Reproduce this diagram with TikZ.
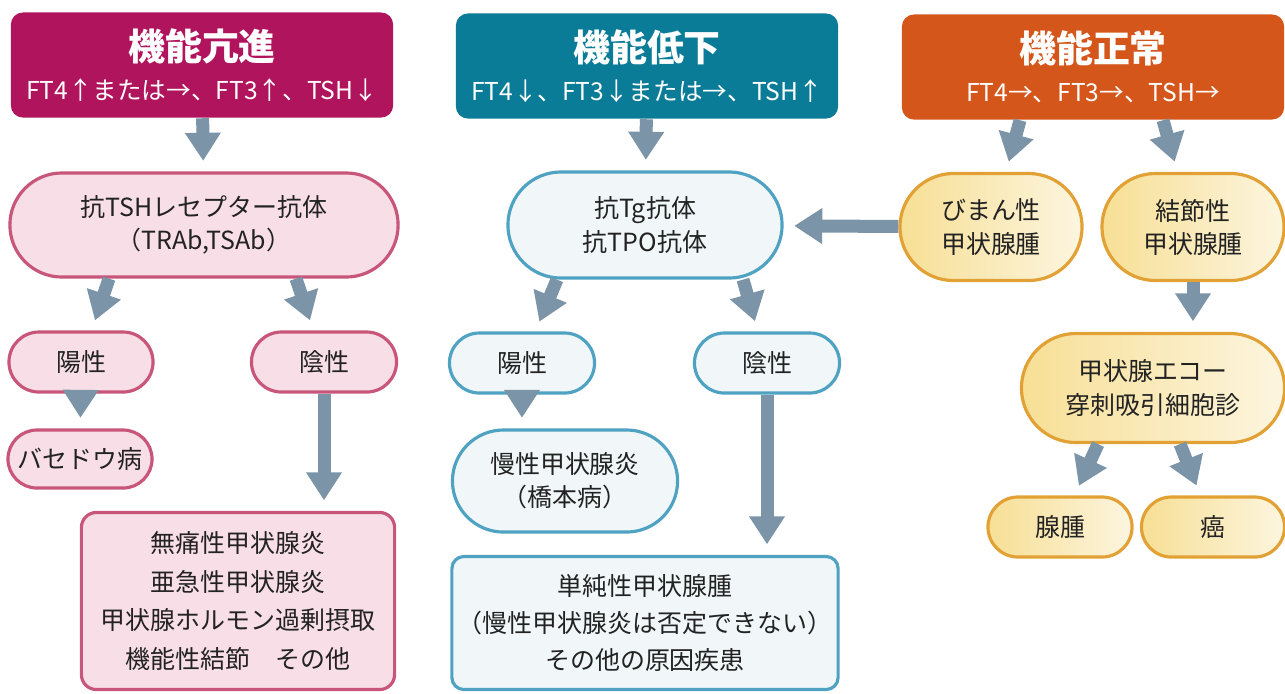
\documentclass[tikz,border=0pt]{standalone}
\usepackage{fontspec}
\setmainfont{Noto Sans CJK JP}
\usetikzlibrary{arrows.meta,calc}
\definecolor{hypercol}{HTML}{B0145C}
\definecolor{hypocol}{HTML}{0B7C97}
\definecolor{normcol}{HTML}{D4561B}
\definecolor{pinkfill}{HTML}{F8DEE6}
\definecolor{pinkline}{HTML}{C8557A}
\definecolor{bluefill}{HTML}{F1F7F9}
\definecolor{blueline}{HTML}{4FA2C2}
\definecolor{ylwfill}{HTML}{F7DF95}
\definecolor{ylwline}{HTML}{E2A135}
\definecolor{arrowcol}{HTML}{7C94A7}
\definecolor{textcol}{HTML}{222222}
\begin{document}
\begin{tikzpicture}[x=0.01cm,y=-0.01cm]

\tikzstyle{head} = [inner sep=0pt, minimum width=3.82cm, minimum height=1.05cm, rounded corners=0.12cm, text=white, align=center, font=\fontsize{7}{8.5}\selectfont];
\tikzstyle{pinkbox} = [draw=pinkline, fill=pinkfill, line width=0.9pt, inner sep=0pt, align=center, text=textcol, font=\fontsize{7.1}{9.4}\selectfont];
\tikzstyle{bluebox} = [draw=blueline, fill=bluefill, line width=0.9pt, inner sep=0pt, align=center, text=textcol, font=\fontsize{7.1}{9.4}\selectfont];
\tikzstyle{ylwbox} = [draw=ylwline, left color=ylwfill, right color=ylwfill!30!white, line width=0.9pt, inner sep=0pt, align=center, text=textcol, font=\fontsize{7.1}{9.4}\selectfont];
\tikzstyle{bigarrow} = [-{Triangle[width=0.34cm,length=0.28cm]}, line width=0.13cm, draw=arrowcol, shorten <=0pt, shorten >=3pt];

\useasboundingbox (0,0) rectangle (1285,693);

% headers
\node[head, fill=hypercol] (hyper) at (202,65) {{\fontsize{10.5}{12}\selectfont\bfseries 機能亢進}\\[2.5pt]FT4↑または→、FT3↑、TSH↓};
\node[head, fill=hypocol] (hypo) at (647,66) {{\fontsize{10.5}{12}\selectfont\bfseries 機能低下}\\[2.5pt]FT4↓、FT3↓または→、TSH↑};
\node[head, fill=normcol] (norm) at (1093,67) {{\fontsize{10.5}{12}\selectfont\bfseries 機能正常}\\[2.5pt]FT4→、FT3→、TSH→};

% hyper column
\node[pinkbox, minimum width=3.88cm, minimum height=1.04cm, rounded corners=0.52cm] (tsh) at (204,225) {抗TSHレセプター抗体\\（TRAb,TSAb）};
\node[pinkbox, minimum width=1.44cm, minimum height=0.6cm, rounded corners=0.3cm] (pos1) at (81,362) {陽性};
\node[pinkbox, minimum width=1.45cm, minimum height=0.6cm, rounded corners=0.3cm] (neg1) at (324,362) {陰性};
\node[pinkbox, minimum width=1.44cm, minimum height=0.58cm, rounded corners=0.29cm] (graves) at (80,459) {バセドウ病};
\node[pinkbox, minimum width=3.13cm, minimum height=1.77cm, rounded corners=0.15cm, font=\fontsize{7.1}{11}\selectfont] (others1) at (238,601) {無痛性甲状腺炎\\亜急性甲状腺炎\\甲状腺ホルモン過剰摂取\\機能性結節　その他};

% hypo column
\node[bluebox, minimum width=2.74cm, minimum height=1.06cm, rounded corners=0.53cm] (tg) at (645,225) {抗Tg抗体\\抗TPO抗体};
\node[bluebox, minimum width=1.45cm, minimum height=0.6cm, rounded corners=0.3cm] (pos2) at (522,363) {陽性};
\node[bluebox, minimum width=1.45cm, minimum height=0.6cm, rounded corners=0.3cm] (neg2) at (767,363) {陰性};
\node[bluebox, minimum width=2.25cm, minimum height=1.02cm, rounded corners=0.51cm] (hashimoto) at (565,481) {慢性甲状腺炎\\（橋本病）};
\node[bluebox, minimum width=3.86cm, minimum height=1.33cm, rounded corners=0.12cm, font=\fontsize{7.1}{10.6}\selectfont] (others2) at (645,623) {単純性甲状腺腫\\（慢性甲状腺炎は否定できない）\\その他の原因疾患};

% normal column
\node[ylwbox, minimum width=1.82cm, minimum height=1.07cm, rounded corners=0.535cm] (diffuse) at (991,227) {びまん性\\甲状腺腫};
\node[ylwbox, minimum width=1.82cm, minimum height=1.07cm, rounded corners=0.535cm] (nodular) at (1193,227) {結節性\\甲状腺腫};
\node[ylwbox, minimum width=2.63cm, minimum height=1.09cm, rounded corners=0.545cm] (echo) at (1153,388) {甲状腺エコー\\穿刺吸引細胞診};
\node[ylwbox, minimum width=1.44cm, minimum height=0.6cm, rounded corners=0.3cm] (adenoma) at (1060,527) {腺腫};
\node[ylwbox, minimum width=1.43cm, minimum height=0.6cm, rounded corners=0.3cm] (cancer) at (1213,527) {癌};

% arrows
\draw[bigarrow] (hyper) -- (tsh);
\draw[bigarrow] ($(tsh.south)+(-95,0)$) -- (pos1);
\draw[bigarrow] ($(tsh.south)+(92,0)$) -- (neg1);
\draw[bigarrow] (pos1) -- (graves);
\draw[bigarrow] (neg1.south) -- (neg1.south |- others1.north);

\draw[bigarrow] (hypo) -- (tg);
\draw[bigarrow] ($(tg.south)+(-88,0)$) -- (pos2);
\draw[bigarrow] ($(tg.south)+(98,0)$) -- (neg2);
\draw[bigarrow] (pos2) -- (pos2 |- hashimoto.north);
\draw[bigarrow] (neg2.south) -- (neg2.south |- others2.north);

\draw[bigarrow] ($(norm.south)+(-73,0)$) -- (diffuse);
\draw[bigarrow] ($(norm.south)+(70,0)$) -- (nodular);
\draw[bigarrow] (diffuse) -- (tg);
\draw[bigarrow] (nodular) -- (nodular |- echo.north);
\draw[bigarrow] ($(echo.south)+(-55,0)$) -- (adenoma);
\draw[bigarrow] ($(echo.south)+(27,0)$) -- (cancer);
\end{tikzpicture}
\end{document}
